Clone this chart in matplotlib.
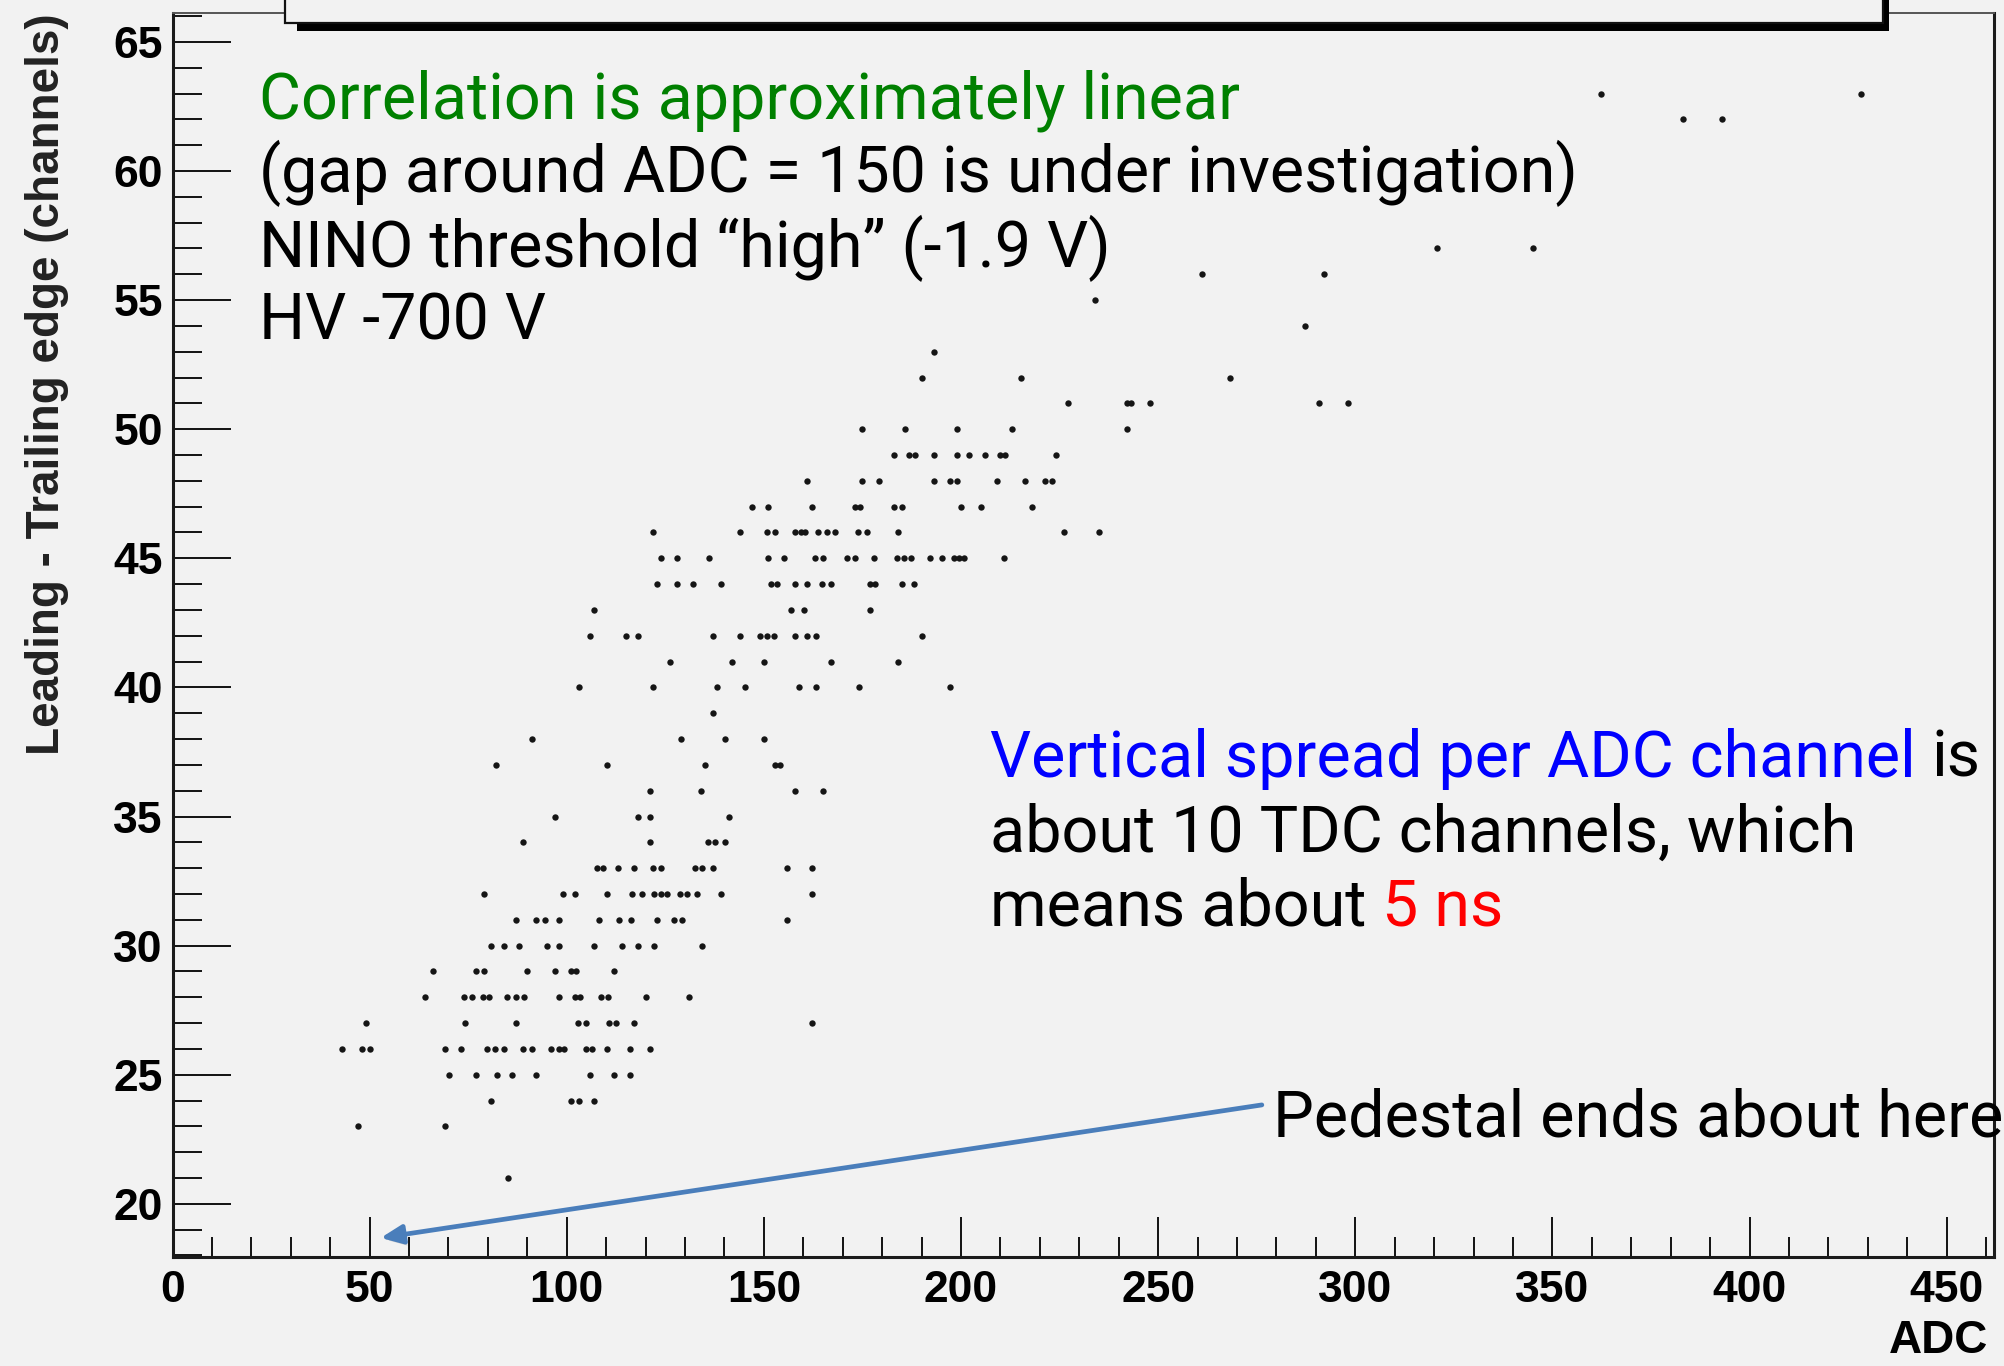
import matplotlib.pyplot as plt
import matplotlib.patheffects as pe
from matplotlib.patches import Rectangle
from matplotlib.ticker import MultipleLocator

plt.rcParams["font.family"] = ["Liberation Sans", "DejaVu Sans"]

# leading - trailing edge (TDC channels); one row of ADC readings per channel
row_channels = [21, 23, 24, 25, 26, 27, 28, 29, 30, 31, 32, 33, 34, 35, 36, 37, 38,
                39, 40, 41, 42, 43, 44, 45, 46, 47, 48, 49, 50, 51, 52, 53, 54, 55,
                56, 57, 62, 63]
adc_by_row = [
    [85.1],
    [47.1, 69.1],
    [80.9, 101.0, 103.1, 107.0],
    [70.1, 77.0, 82.2, 86.0, 92.1, 106.0, 112.0, 116.0],
    [42.9, 48.0, 50.0, 69.1, 73.1, 79.8, 81.9, 84.0, 88.9, 91.1, 95.9, 98.0, 99.3,
     104.9, 106.3, 110.1, 116.0, 121.1],
    [49.0, 74.1, 87.0, 102.8, 104.9, 110.7, 112.4, 117.0, 162.2],
    [64.0, 73.9, 76.0, 78.7, 80.4, 84.9, 87.0, 89.1, 98.0, 102.1, 103.3, 108.8,
     110.5, 120.0, 131.0],
    [66.0, 76.9, 79.0, 90.0, 97.0, 101.0, 102.4, 112.0],
    [80.9, 84.0, 88.0, 95.0, 98.0, 107.0, 114.1, 118.1, 122.1, 134.2],
    [87.0, 92.1, 94.4, 98.0, 108.1, 113.2, 116.2, 122.9, 127.1, 129.3, 155.9],
    [79.0, 99.1, 102.1, 110.1, 116.6, 119.0, 122.1, 123.8, 125.5, 128.7, 130.4,
     133.1, 139.1, 162.2],
    [107.7, 109.2, 113.0, 117.0, 121.9, 124.0, 132.6, 134.3, 137.0, 155.9, 162.2],
    [89.0, 121.0, 135.9, 137.7, 140.1],
    [97.0, 118.1, 121.0, 141.1],
    [121.0, 134.1, 158.0, 165.0],
    [82.1, 110.1, 135.0, 152.9, 154.2],
    [91.1, 129.1, 140.1, 150.0],
    [137.0],
    [103.1, 121.9, 138.1, 145.1, 159.0, 163.1, 174.1, 197.1],
    [126.1, 142.0, 150.1, 167.1, 184.1],
    [106.0, 115.1, 118.1, 137.0, 144.0, 149.0, 150.7, 152.5, 158.0, 161.0, 163.1,
     190.1],
    [107.0, 157.0, 160.1, 177.0],
    [122.9, 128.0, 132.1, 139.0, 151.9, 153.4, 158.0, 161.0, 164.8, 167.1, 176.9,
     178.1, 185.1, 188.0],
    [124.0, 128.0, 136.0, 151.0, 155.1, 162.9, 165.0, 171.0, 173.1, 177.9, 183.8,
     185.5, 187.2, 192.1, 195.2, 198.2, 199.4, 200.7, 211.0],
    [121.9, 144.0, 150.8, 152.9, 158.0, 159.3, 160.4, 163.8, 165.9, 168.0, 173.9,
     176.2, 184.1, 226.1, 235.0],
    [147.0, 151.1, 162.1, 173.0, 174.3, 183.0, 185.1, 200.1, 205.0, 218.0],
    [161.0, 174.9, 179.1, 193.1, 197.1, 199.0, 209.2, 216.2, 221.2, 223.1],
    [183.0, 186.9, 188.4, 193.1, 199.0, 202.0, 206.0, 209.8, 211.1, 224.0],
    [174.9, 185.9, 199.0, 213.0, 242.1],
    [227.1, 242.0, 243.2, 248.0, 290.8, 298.1],
    [190.0, 215.1, 268.1],
    [193.1],
    [287.2],
    [234.0],
    [261.2, 292.1],
    [320.8, 345.2],
    [383.0, 393.1],
    [362.2, 428.3],
]

left_lines = [
    "Correlation is approximately linear",
    "(gap around ADC = 150 is under investigation)",
    "NINO threshold \u201chigh\u201d (-1.9 V)",
    "HV -700 V",
]

BG = "#f2f2f2"
GREEN, BLUE, RED = "#008000", "#0000ff", "#ff0000"
ARROW = "#4a7ebb"
NOTE = dict(fontfamily=["Roboto", "DejaVu Sans"], fontsize=46.5)
SPACE_PT = 11.5  # width of one space at the note font size

W, H = 2004, 1366
fig = plt.figure(figsize=(W / 100, H / 100), dpi=100, facecolor=BG)
ax = fig.add_axes([172.5 / W, 1 - 1257 / H, 1821.5 / W, 1244 / H], facecolor=BG)

xs, ys = [], []
for ch, vals in zip(row_channels, adc_by_row):
    xs += vals
    ys += [ch] * len(vals)
ax.plot(xs, ys, ls="none", marker="o", ms=4.6, color="#151515", mew=0)

ax.set_xlim(0, 462)
ax.set_ylim(17.94, 66.12)
ax.xaxis.set_major_locator(MultipleLocator(50))
ax.xaxis.set_minor_locator(MultipleLocator(10))
ax.yaxis.set_major_locator(MultipleLocator(5))
ax.yaxis.set_minor_locator(MultipleLocator(1))
ax.tick_params(axis="y", which="major", direction="in", length=41.5, width=1.3,
               pad=7, labelsize=32, right=False)
ax.tick_params(axis="y", which="minor", direction="in", length=21, width=1.3,
               right=False)
ax.tick_params(axis="x", which="major", direction="in", length=29, width=1.3,
               pad=9, labelsize=32, top=False)
ax.tick_params(axis="x", which="minor", direction="in", length=14.5, width=1.3,
               top=False)
for lbl in ax.get_xticklabels() + ax.get_yticklabels():
    lbl.set_fontweight("bold")
for side in ("left", "bottom", "right"):
    ax.spines[side].set_linewidth(2.2)
    ax.spines[side].set_color("#1a1a1a")
ax.spines["top"].set_linewidth(1.4)
ax.spines["top"].set_color("#555555")

ax.set_ylabel("Leading - Trailing edge (channels)", loc="top", fontsize=33,
              fontweight="bold", color="#222222")
ax.yaxis.set_label_coords(-0.057, 1.0)
ax.set_xlabel("ADC", loc="right", fontsize=33, fontweight="bold")
ax.xaxis.set_label_coords(0.9967, -0.05)

# notes (slide text overlaid on the ROOT canvas)
left_base = [118.3, 191.7, 266.7, 340.0]
for i, (line, yb) in enumerate(zip(left_lines, left_base)):
    fig.text(259 / W, 1 - yb / H, line, color=GREEN if i == 0 else "black",
             va="baseline", ha="left", **NOTE)

x_r = 990 / W
t1 = fig.text(x_r, 1 - 776.7 / H, "Vertical spread per ADC channel", color=BLUE,
              va="baseline", ha="left", **NOTE)
ax.annotate("is", xy=(1, 0), xycoords=t1, xytext=(SPACE_PT, 0),
            textcoords="offset points", va="bottom", ha="left", color="black",
            annotation_clip=False, **NOTE)
fig.text(x_r, 1 - 851.7 / H, "about 10 TDC channels, which", color="black",
         va="baseline", ha="left", **NOTE)
t3 = fig.text(x_r, 1 - 925 / H, "means about", color="black",
              va="baseline", ha="left", **NOTE)
ax.annotate("5 ns", xy=(1, 0), xycoords=t3, xytext=(SPACE_PT, 0),
            textcoords="offset points", va="bottom", ha="left", color=RED,
            annotation_clip=False, **NOTE)

fig.text(1273 / W, 1 - 1136.7 / H, "Pedestal ends about here", color="black",
         va="baseline", ha="left", **NOTE)
ax.annotate("", xy=(52.8, 18.68), xytext=(276.3, 23.83),
            arrowprops=dict(arrowstyle="-|>,head_length=0.5,head_width=0.22",
                            mutation_scale=26, color=ARROW, lw=3.4,
                            shrinkA=0, shrinkB=0,
                            path_effects=[pe.withSimplePatchShadow(
                                offset=(1.5, -2.5), shadow_rgbFace="#999999",
                                alpha=0.35)]),
            annotation_clip=False)

# title box of the ROOT canvas, mostly cut off at the top edge
fig.patches.append(Rectangle((297 / W, 1 - 31 / H), 1592 / W, 60 / H,
                             transform=fig.transFigure, facecolor="black",
                             edgecolor="none", zorder=5))
fig.patches.append(Rectangle((285 / W, 1 - 23 / H), 1598 / W, 60 / H,
                             transform=fig.transFigure, facecolor=BG,
                             edgecolor="#111111", lw=1.6, zorder=6))

fig.savefig("out.png", dpi=100, facecolor=BG)
